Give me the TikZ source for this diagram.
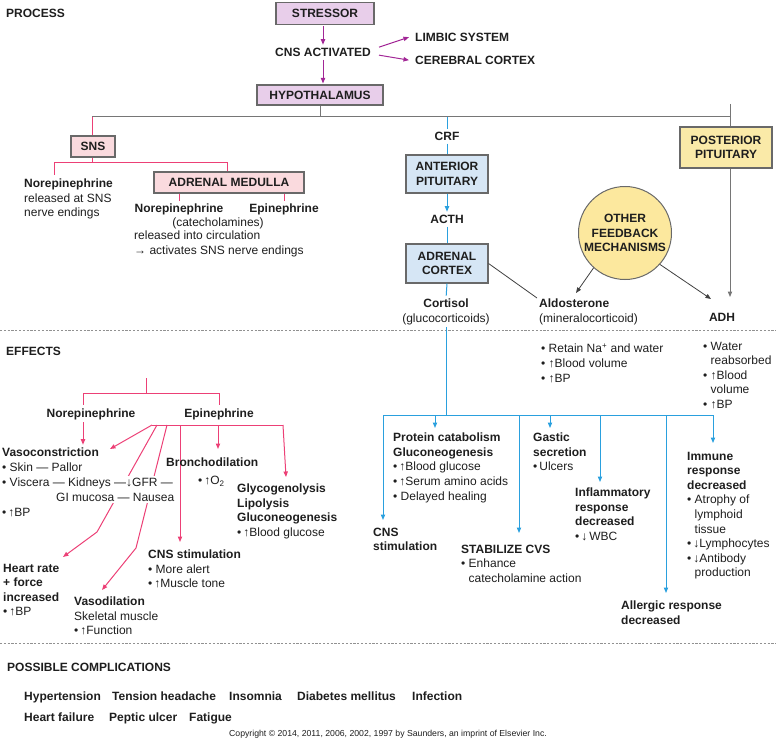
\documentclass[tikz,border=0pt]{standalone}
\usepackage{fontspec}
\setmainfont{Liberation Sans}
\usetikzlibrary{arrows.meta,backgrounds,calc}
\newcommand\myfs{\fontsize{12}{14.6}\selectfont}
\definecolor{purp}{RGB}{162,38,150}
\definecolor{lav}{RGB}{232,206,234}
\definecolor{pinkl}{RGB}{236,64,118}
\definecolor{pinkf}{RGB}{250,218,222}
\definecolor{bluel}{RGB}{42,160,222}
\definecolor{bluef}{RGB}{214,230,245}
\definecolor{yelbox}{RGB}{250,234,168}
\definecolor{yelcir}{RGB}{252,232,158}
\definecolor{grl}{RGB}{118,118,118}
\definecolor{boxb}{RGB}{105,105,105}
\definecolor{txt}{RGB}{30,30,30}
\tikzset{
  tip/.style={-{Triangle[length=5.5pt,width=4.3pt]}},
  tl/.style={inner sep=0pt, anchor=north west, yshift=4.3pt, align=left, font=\myfs, text=txt},
  tc/.style={inner sep=0pt, anchor=north, yshift=4.3pt, align=center, font=\myfs, text=txt},
  bfs/.style={font=\bfseries\myfs},
  box/.style={draw=boxb, line width=1.1pt, inner sep=0pt, align=center, font=\bfseries\myfs, text=txt},
  wipe/.style={fill=white, inner ysep=1.5pt, yshift=1.5pt},
  pl/.style={draw=pinkl, line width=1pt},
  bl/.style={draw=bluel, line width=1pt},
  gl/.style={draw=grl, line width=1pt},
  pu/.style={draw=purp, line width=1pt},
  sepline/.style={draw=grl!80, line width=0.9pt, dash pattern=on 2.2pt off 1.6pt},
}
\begin{document}
\begin{tikzpicture}[x=1pt,y=-1pt]
\useasboundingbox (0,0) rectangle (776,741);
% ---------------- PROCESS ----------------
\node[tl,bfs] (process) at (6,13) {PROCESS};
\node[box,fill=lav,minimum width=98pt,minimum height=22pt] (stressor) at (325,13.5) {STRESSOR};
\node[tc,bfs] (cns) at (323,52) {CNS ACTIVATED};
\node[tl,bfs] (limbic) at (415,37) {LIMBIC SYSTEM};
\node[tl,bfs] (cortex) at (415,60) {CEREBRAL CORTEX};
\node[box,fill=lav,minimum width=126pt,minimum height=20pt] (hypo) at (320,95) {HYPOTHALAMUS};
\draw[pu,tip,shorten <=1pt,shorten >=3pt] (stressor.south -| cns.north) -- (cns.north);
\draw[pu,tip,shorten <=3pt,shorten >=1pt] (cns.south) -- (cns.south |- hypo.north);
\draw[pu,tip] ($(cns.east)+(8,-5)$) -- ($(limbic.west)+(-6,0)$);
\draw[pu,tip] ($(cns.east)+(8,3)$) -- ($(cortex.west)+(-6,0)$);
% main bar
\coordinate (hl) at (92,117);
\coordinate (hr) at (730,117);
\coordinate (htick) at (730,104);
\draw[gl] (hl) -- (hr);
\draw[gl] (hypo.south) -- (hypo.south |- hl);
% SNS branch
\node[box,fill=pinkf,minimum width=44pt,minimum height=21pt] (sns) at (93,146.5) {SNS};
\draw[pl] (hl) -- (hl |- sns.north);
\coordinate (snsL) at (54,162);
\coordinate (snsR) at (227,162);
\draw[pl] (sns.south -| hl) -- (hl |- snsL);
\draw[pl] (snsL) -- (snsR);
\node[tl] (nor1) at (24,183) {\textbf{Norepinephrine}\\released at SNS\\nerve endings};
\draw[pl,shorten >=4pt] (snsL) -- (snsL |- nor1.north);
\node[box,fill=pinkf,minimum width=150pt,minimum height=21pt] (medulla) at (229,182.5) {ADRENAL MEDULLA};
\draw[pl] (snsR) -- (snsR |- medulla.north);
\node[tc,bfs] (nor2) at (179,208) {Norepinephrine};
\node[tc,bfs] (epi2) at (284,208) {Epinephrine};
\draw[pl,shorten >=3pt] (medulla.south -| nor2.north) -- (nor2.north);
\draw[pl,shorten >=3pt] (medulla.south -| epi2.north) -- (epi2.north);
\node[tc] (catech) at (218,222) {(catecholamines)};
\node[tl] (released) at (134,235) {released into circulation\\→ activates SNS nerve endings};
% HPA axis
\node[tc,bfs] (crf) at (447,136) {CRF};
\draw[bl,shorten >=3pt] (crf.north |- hl) -- (crf.north);
\node[box,fill=bluef,minimum width=82pt,minimum height=38pt] (ant) at (447,174) {ANTERIOR\\PITUITARY};
\draw[bl,shorten <=3pt] (crf.south) -- (ant.north);
\node[tc,bfs] (acth) at (447,219) {ACTH};
\draw[bl,tip,shorten >=3pt] (ant.south) -- (acth.north);
\node[box,fill=bluef,minimum width=82pt,minimum height=39pt] (adc) at (447,263.5) {ADRENAL\\CORTEX};
\draw[bl,shorten <=3pt] (acth.south) -- (adc.north);
\node[tc] (cort) at (446,303) {\textbf{Cortisol}\\(glucocorticoids)};
\draw[bl,shorten >=3pt] (adc.south) -- (cort.north);
\node[tl] (aldo) at (539,303) {\textbf{Aldosterone}\\(mineralocorticoid)};
\coordinate (aldoin) at (537,298);
\draw[gl,line width=0.8pt,draw=black!75] (adc.east) -- (aldoin);
\node[circle,draw=boxb,line width=1pt,fill=yelcir,minimum size=93pt,inner sep=0pt,align=center,font=\bfseries\myfs,text=txt] (ofm) at (625,233) {OTHER\\FEEDBACK\\MECHANISMS};
\node[box,fill=yelbox,minimum width=92pt,minimum height=41pt] (post) at (726,147.5) {POSTERIOR\\PITUITARY};
\draw[gl] (htick) -- (post.north -| htick);
\node[tc,bfs] (adh) at (722,317) {ADH};
\coordinate (adhtip) at (730,297);
\coordinate (aldotip) at (576,293);
\coordinate (adhtip2) at (711,299);
\draw[gl,tip] (post.south -| adhtip) -- (adhtip);
\draw[gl,tip,line width=0.8pt,draw=black!75] (ofm.228) -- (aldotip);
\draw[gl,tip,line width=0.8pt,draw=black!75] (ofm.318) -- (adhtip2);
% separators
\coordinate (s1l) at (0,330); \coordinate (s1r) at (776,330);
\coordinate (s2l) at (0,643); \coordinate (s2r) at (776,643);
\draw[sepline] (s1l) -- (s1r);
\draw[sepline] (s2l) -- (s2r);
% ---------------- EFFECTS ----------------
\node[tl,bfs] (effects) at (6,351) {EFFECTS};
\node[tc,bfs] (nor3) at (91,413) {Norepinephrine};
\node[tc,bfs] (epi3) at (219,413) {Epinephrine};
\coordinate (pTop) at (146,378);
\coordinate (pBarL) at (83,393);
\coordinate (pBarR) at (219,393);
\draw[pl] (pTop) -- (pTop |- pBarL);
\draw[pl] (pBarL) -- (pBarR);
\draw[pl,shorten >=4pt] (pBarL) -- (pBarL |- nor3.north);
\draw[pl,shorten >=4pt] (pBarR) -- (epi3.north);
% left effect texts
\node[tl,bfs] (vaso) at (2,452) {Vasoconstriction};
\node[tl] (skin) at (2,467) {• Skin — Pallor};
\node[tl,wipe] (visc) at (2,482) {• Viscera — Kidneys —↓GFR —};
\node[tl,wipe] (gimuc) at (56,497) {GI mucosa — Nausea};
\node[tl] (bpone) at (2,512) {•\,↑BP};
\node[tl,bfs] (bron) at (166,462) {Bronchodilation};
\node[tl] (otwo) at (198,480) {•\,↑O\textsubscript{2}};
\node[tl] (gly) at (237,488) {\textbf{Glycogenolysis}\\\textbf{Lipolysis}\\\textbf{Gluconeogenesis}\\•\,↑Blood glucose};
\node[tl] (heart) at (3,568) {\textbf{Heart rate}\\\textbf{+ force}\\\textbf{increased}\\•\,↑BP};
\node[tl] (vasod) at (74,601) {\textbf{Vasodilation}\\Skeletal muscle\\•\,↑Function};
\node[tl] (cnsst) at (148,554) {\textbf{CNS stimulation}\\• More alert\\•\,↑Muscle tone};
\draw[pl,tip,shorten <=2pt,shorten >=3pt] (nor3.south -| pBarL) -- (pBarL |- vaso.north);
\coordinate (f0) at (152,425);
\coordinate (f3) at (283,425);
\coordinate (fa) at (157,425);
\coordinate (fb) at (167,425);
\coordinate (fc) at (180,425);
\coordinate (fd) at (218,425);
\coordinate (tipVaso) at (110,449);
\coordinate (bendA) at (97,532);
\coordinate (tipHeart) at (63,557);
\coordinate (bendB) at (136,548);
\coordinate (tipVasod) at (102,590);
\coordinate (tipCns) at (180,542);
\coordinate (tipBron) at (218,449);
\coordinate (tipGly) at (286,477);
\begin{scope}[on background layer]
\draw[pl] (f0) -- (f3);
\draw[pl,tip] (f0) -- (tipVaso);
\draw[pl,tip] (fa) -- (bendA) -- (tipHeart);
\draw[pl,tip] (fb) -- (bendB) -- (tipVasod);
\draw[pl,tip] (fc) -- (tipCns);
\draw[pl,tip] (fd) -- (tipBron);
\draw[pl,tip] (f3) -- (tipGly);
\end{scope}
% right effect texts
\node[tl] (retain) at (541,348) {• Retain Na\textsuperscript{+} and water\\• ↑Blood volume\\• ↑BP};
\node[tl] (water) at (703,346) {• Water\\\phantom{• }reabsorbed\\• ↑Blood\\\phantom{• }volume\\• ↑BP};
\node[tl] (cnstwo) at (373,532) {\textbf{CNS}\\\textbf{stimulation}};
\node[tl] (prot) at (393,437) {\textbf{Protein catabolism}\\\textbf{Gluconeogenesis}\\•\,↑Blood glucose\\•\,↑Serum amino acids\\• Delayed healing};
\node[tl] (gast) at (533,437) {\textbf{Gastic}\\\textbf{secretion}\\•\,Ulcers};
\node[tl] (stab) at (461,549) {\textbf{STABILIZE CVS}\\• Enhance\\\phantom{• }catecholamine action};
\node[tl] (infl) at (575,492) {\textbf{Inflammatory}\\\textbf{response}\\\textbf{decreased}\\•\,↓\,WBC};
\node[tl] (allerg) at (621,605) {\textbf{Allergic response}\\\textbf{decreased}};
\node[tl] (immu) at (687,456) {\textbf{Immune}\\\textbf{response}\\\textbf{decreased}\\• Atrophy of\\\phantom{• }lymphoid\\\phantom{• }tissue\\•\,↓Lymphocytes\\•\,↓Antibody\\\phantom{• }production};
\coordinate (bh) at (446,415);
\coordinate (bL) at (383,415);
\coordinate (bR) at (713,415);
\coordinate (tipCns2) at (383,520);
\coordinate (tipProt) at (435,428);
\coordinate (tipStab) at (519,533);
\coordinate (tipGast) at (550,428);
\coordinate (tipInfl) at (600,482);
\coordinate (tipAll) at (666,593);
\coordinate (tipImm) at (713,443);
\draw[bl,shorten <=2pt] (cort.south) -- (cort.south |- bh);
\draw[bl] (bL) -- (bR);
\draw[bl,tip] (bL) -- (tipCns2);
\draw[bl,tip] (tipProt |- bh) -- (tipProt);
\draw[bl,tip] (tipStab |- bh) -- (tipStab);
\draw[bl,tip] (tipGast |- bh) -- (tipGast);
\draw[bl,tip] (tipInfl |- bh) -- (tipInfl);
\draw[bl,tip] (tipAll |- bh) -- (tipAll);
\draw[bl,tip] (bR) -- (tipImm);
% ---------------- COMPLICATIONS ----------------
\node[tl,bfs] (poss) at (7,667) {POSSIBLE COMPLICATIONS};
\node[tl,bfs] (ca) at (24,696) {Hypertension};
\node[tl,bfs] (cb) at (112,696) {Tension headache};
\node[tl,bfs] (cc) at (229,696) {Insomnia};
\node[tl,bfs] (cd) at (297,696) {Diabetes mellitus};
\node[tl,bfs] (ce) at (412,696) {Infection};
\node[tl,bfs] (cf) at (24,717) {Heart failure};
\node[tl,bfs] (cg) at (109,717) {Peptic ulcer};
\node[tl,bfs] (ch) at (189,717) {Fatigue};
\node[tc,font=\fontsize{8.7}{10}\selectfont,yshift=-1.2pt] (copy) at (388,733) {Copyright © 2014, 2011, 2006, 2002, 1997 by Saunders, an imprint of Elsevier Inc.};
\end{tikzpicture}
\end{document}
